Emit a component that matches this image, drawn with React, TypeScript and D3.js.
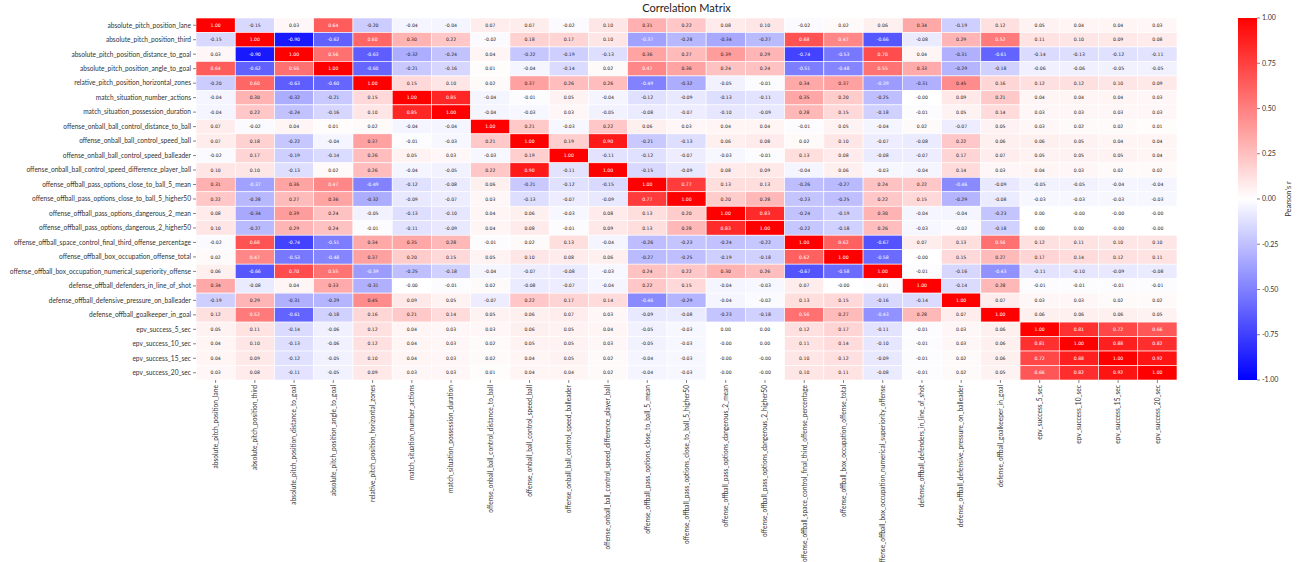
import React from "react";
import * as d3 from "d3";

const labels = [
  "absolute_pitch_position_lane",
  "absolute_pitch_position_third",
  "absolute_pitch_position_distance_to_goal",
  "absolute_pitch_position_angle_to_goal",
  "relative_pitch_position_horizontal_zones",
  "match_situation_number_actions",
  "match_situation_possession_duration",
  "offense_onball_ball_control_distance_to_ball",
  "offense_onball_ball_control_speed_ball",
  "offense_onball_ball_control_speed_balleader",
  "offense_onball_ball_control_speed_difference_player_ball",
  "offense_offball_pass_options_close_to_ball_5_mean",
  "offense_offball_pass_options_close_to_ball_5_higher50",
  "offense_offball_pass_options_dangerous_2_mean",
  "offense_offball_pass_options_dangerous_2_higher50",
  "offense_offball_space_control_final_third_offense_percentage",
  "offense_offball_box_occupation_offense_total",
  "offense_offball_box_occupation_numerical_superiority_offense",
  "defense_offball_defenders_in_line_of_shot",
  "defense_offball_defensive_pressure_on_balleader",
  "defense_offball_goalkeeper_in_goal",
  "epv_success_5_sec",
  "epv_success_10_sec",
  "epv_success_15_sec",
  "epv_success_20_sec",
];

const corr: number[][] = [
  [1.00, -0.15, 0.03, 0.64, -0.20, -0.04, -0.04, 0.07, 0.07, -0.02, 0.10, 0.31, 0.22, 0.08, 0.10, -0.02, 0.02, 0.06, 0.34, -0.19, 0.12, 0.05, 0.04, 0.04, 0.03],
  [-0.15, 1.00, -0.90, -0.62, 0.60, 0.30, 0.22, -0.02, 0.18, 0.17, 0.10, -0.37, -0.28, -0.34, -0.27, 0.68, 0.47, -0.66, -0.08, 0.29, 0.52, 0.11, 0.10, 0.09, 0.08],
  [0.03, -0.90, 1.00, 0.56, -0.63, -0.32, -0.24, 0.04, -0.22, -0.19, -0.13, 0.36, 0.27, 0.39, 0.29, -0.74, -0.53, 0.70, 0.04, -0.31, -0.61, -0.14, -0.13, -0.12, -0.11],
  [0.64, -0.62, 0.56, 1.00, -0.60, -0.21, -0.16, 0.01, -0.04, -0.14, 0.02, 0.47, 0.36, 0.24, 0.24, -0.51, -0.48, 0.55, 0.33, -0.29, -0.18, -0.06, -0.06, -0.05, -0.05],
  [-0.20, 0.60, -0.63, -0.60, 1.00, 0.15, 0.10, 0.02, 0.37, 0.26, 0.26, -0.49, -0.32, -0.05, -0.01, 0.34, 0.37, -0.39, -0.31, 0.45, 0.16, 0.12, 0.12, 0.10, 0.09],
  [-0.04, 0.30, -0.32, -0.21, 0.15, 1.00, 0.85, -0.04, -0.01, 0.05, -0.04, -0.12, -0.09, -0.13, -0.11, 0.35, 0.20, -0.25, -0.001, 0.09, 0.21, 0.04, 0.04, 0.04, 0.03],
  [-0.04, 0.22, -0.24, -0.16, 0.10, 0.85, 1.00, -0.04, -0.03, 0.03, -0.05, -0.08, -0.07, -0.10, -0.09, 0.28, 0.15, -0.18, -0.01, 0.05, 0.14, 0.03, 0.03, 0.03, 0.03],
  [0.07, -0.02, 0.04, 0.01, 0.02, -0.04, -0.04, 1.00, 0.21, -0.03, 0.22, 0.06, 0.03, 0.04, 0.04, -0.01, 0.05, -0.04, 0.02, -0.07, 0.05, 0.03, 0.02, 0.02, 0.01],
  [0.07, 0.18, -0.22, -0.04, 0.37, -0.01, -0.03, 0.21, 1.00, 0.19, 0.90, -0.21, -0.13, 0.06, 0.08, 0.02, 0.10, -0.07, -0.08, 0.22, 0.06, 0.06, 0.05, 0.04, 0.04],
  [-0.02, 0.17, -0.19, -0.14, 0.26, 0.05, 0.03, -0.03, 0.19, 1.00, -0.11, -0.12, -0.07, -0.03, -0.01, 0.13, 0.08, -0.08, -0.07, 0.17, 0.07, 0.05, 0.05, 0.05, 0.04],
  [0.10, 0.10, -0.13, 0.02, 0.26, -0.04, -0.05, 0.22, 0.90, -0.11, 1.00, -0.15, -0.09, 0.08, 0.09, -0.04, 0.06, -0.03, -0.04, 0.14, 0.03, 0.04, 0.03, 0.02, 0.02],
  [0.31, -0.37, 0.36, 0.47, -0.49, -0.12, -0.08, 0.06, -0.21, -0.12, -0.15, 1.00, 0.77, 0.13, 0.13, -0.26, -0.27, 0.24, 0.22, -0.46, -0.09, -0.05, -0.05, -0.04, -0.04],
  [0.22, -0.28, 0.27, 0.36, -0.32, -0.09, -0.07, 0.03, -0.13, -0.07, -0.09, 0.77, 1.00, 0.20, 0.28, -0.23, -0.25, 0.22, 0.15, -0.29, -0.08, -0.03, -0.03, -0.03, -0.03],
  [0.08, -0.34, 0.39, 0.24, -0.05, -0.13, -0.10, 0.04, 0.06, -0.03, 0.08, 0.13, 0.20, 1.00, 0.83, -0.24, -0.19, 0.30, -0.04, -0.04, -0.23, 0.001, -0.001, -0.001, -0.001],
  [0.10, -0.27, 0.29, 0.24, -0.01, -0.11, -0.09, 0.04, 0.08, -0.01, 0.09, 0.13, 0.28, 0.83, 1.00, -0.22, -0.18, 0.26, -0.03, -0.02, -0.18, 0.001, 0.001, -0.001, -0.001],
  [-0.02, 0.68, -0.74, -0.51, 0.34, 0.35, 0.28, -0.01, 0.02, 0.13, -0.04, -0.26, -0.23, -0.24, -0.22, 1.00, 0.62, -0.67, 0.07, 0.13, 0.56, 0.12, 0.11, 0.10, 0.10],
  [0.02, 0.47, -0.53, -0.48, 0.37, 0.20, 0.15, 0.05, 0.10, 0.08, 0.06, -0.27, -0.25, -0.19, -0.18, 0.62, 1.00, -0.58, -0.001, 0.15, 0.27, 0.17, 0.14, 0.12, 0.11],
  [0.06, -0.66, 0.70, 0.55, -0.39, -0.25, -0.18, -0.04, -0.07, -0.08, -0.03, 0.24, 0.22, 0.30, 0.26, -0.67, -0.58, 1.00, -0.01, -0.16, -0.43, -0.11, -0.10, -0.09, -0.08],
  [0.34, -0.08, 0.04, 0.33, -0.31, -0.001, -0.01, 0.02, -0.08, -0.07, -0.04, 0.22, 0.15, -0.04, -0.03, 0.07, -0.001, -0.01, 1.00, -0.14, 0.28, -0.01, -0.01, -0.01, -0.01],
  [-0.19, 0.29, -0.31, -0.29, 0.45, 0.09, 0.05, -0.07, 0.22, 0.17, 0.14, -0.46, -0.29, -0.04, -0.02, 0.13, 0.15, -0.16, -0.14, 1.00, 0.07, 0.03, 0.03, 0.02, 0.02],
  [0.12, 0.52, -0.61, -0.18, 0.16, 0.21, 0.14, 0.05, 0.06, 0.07, 0.03, -0.09, -0.08, -0.23, -0.18, 0.56, 0.27, -0.43, 0.28, 0.07, 1.00, 0.06, 0.06, 0.06, 0.05],
  [0.05, 0.11, -0.14, -0.06, 0.12, 0.04, 0.03, 0.03, 0.06, 0.05, 0.04, -0.05, -0.03, 0.001, 0.001, 0.12, 0.17, -0.11, -0.01, 0.03, 0.06, 1.00, 0.81, 0.72, 0.66],
  [0.04, 0.10, -0.13, -0.06, 0.12, 0.04, 0.03, 0.02, 0.05, 0.05, 0.03, -0.05, -0.03, -0.001, 0.001, 0.11, 0.14, -0.10, -0.01, 0.03, 0.06, 0.81, 1.00, 0.88, 0.82],
  [0.04, 0.09, -0.12, -0.05, 0.10, 0.04, 0.03, 0.02, 0.04, 0.05, 0.02, -0.04, -0.03, -0.001, -0.001, 0.10, 0.12, -0.09, -0.01, 0.02, 0.06, 0.72, 0.88, 1.00, 0.92],
  [0.03, 0.08, -0.11, -0.05, 0.09, 0.03, 0.03, 0.01, 0.04, 0.04, 0.02, -0.04, -0.03, -0.001, -0.001, 0.10, 0.11, -0.08, -0.01, 0.02, 0.05, 0.66, 0.82, 0.92, 1.00],
];

const colorbarTicks = [1.0, 0.75, 0.5, 0.25, 0.0, -0.25, -0.5, -0.75, -1.0];

const W = 1298;
const H = 562;
const M = { left: 196, top: 18, right: 1177, bottom: 380 };
const CB = { x: 1238, w: 19 };

const labelFont = "Lato, 'Open Sans', sans-serif";
const annotFont = "'DejaVu Sans', sans-serif";

const color = d3
  .scaleLinear<string>()
  .domain([-1, 0, 1])
  .range(["#0000ff", "#ffffff", "#ff0000"])
  .interpolate(d3.interpolateRgb)
  .clamp(true);

function luminance(c: string): number {
  const rgb = d3.rgb(c);
  const lin = (v: number) => {
    const s = v / 255;
    return s <= 0.03928 ? s / 12.92 : Math.pow((s + 0.055) / 1.055, 2.4);
  };
  return 0.2126 * lin(rgb.r) + 0.7152 * lin(rgb.g) + 0.0722 * lin(rgb.b);
}

function fmt(v: number): string {
  const s = v.toFixed(2);
  return s;
}

export default function App() {
  const idx = d3.range(labels.length);
  const x = d3.scaleBand<number>().domain(idx).range([M.left, M.right]);
  const y = d3.scaleBand<number>().domain(idx).range([M.top, M.bottom]);
  const cbY = d3.scaleLinear().domain([-1, 1]).range([M.bottom, M.top]);

  const stops = d3.range(0, 1.0001, 0.05).map((t) => ({
    offset: t,
    c: color(1 - 2 * t),
  }));

  return (
    <svg
      width={W}
      height={H}
      style={{ position: "absolute", left: 0, top: 0, background: "#fff" }}
    >
      <defs>
        <linearGradient id="cbgrad" x1="0" y1="0" x2="0" y2="1">
          {stops.map((s, i) => (
            <stop key={i} offset={s.offset} stopColor={s.c} />
          ))}
        </linearGradient>
      </defs>
      <text
        x={(M.left + M.right) / 2}
        y={12}
        textAnchor="middle"
        fontFamily={labelFont}
        fontSize={11}
        fill="#222"
      >
        Correlation Matrix
      </text>

      {corr.map((row, i) =>
        row.map((v, j) => {
          const c = color(v);
          const tc = luminance(c) > 0.408 ? "#262626" : "#ffffff";
          return (
            <g key={`${i}-${j}`}>
              <rect
                x={x(j)}
                y={y(i)}
                width={x.bandwidth()}
                height={y.bandwidth()}
                fill={c}
                stroke="#fff"
                strokeWidth={0.6}
              />
              <text
                x={(x(j) as number) + x.bandwidth() / 2}
                y={(y(i) as number) + y.bandwidth() / 2}
                dy="0.35em"
                textAnchor="middle"
                fontFamily={annotFont}
                fontSize={4.6}
                fill={tc}
              >
                {fmt(v)}
              </text>
            </g>
          );
        })
      )}

      {labels.map((l, i) => {
        const cy = (y(i) as number) + y.bandwidth() / 2;
        return (
          <g key={`r${i}`}>
            <line x1={M.left - 3} x2={M.left} y1={cy} y2={cy} stroke="#333" strokeWidth={0.6} />
            <text
              x={M.left - 5}
              y={cy}
              dy="0.35em"
              textAnchor="end"
              fontFamily={labelFont}
              fontSize={6.6}
              fill="#333"
            >
              {l}
            </text>
          </g>
        );
      })}

      {labels.map((l, j) => {
        const cx = (x(j) as number) + x.bandwidth() / 2;
        return (
          <g key={`c${j}`}>
            <line x1={cx} x2={cx} y1={M.bottom} y2={M.bottom + 3} stroke="#333" strokeWidth={0.6} />
            <text
              transform={`translate(${cx},${M.bottom + 5}) rotate(-90)`}
              dy="0.35em"
              textAnchor="end"
              fontFamily={labelFont}
              fontSize={6.6}
              fill="#333"
            >
              {l}
            </text>
          </g>
        );
      })}

      <rect x={CB.x} y={M.top} width={CB.w} height={M.bottom - M.top} fill="url(#cbgrad)" />
      {colorbarTicks.map((t) => (
        <g key={`t${t}`}>
          <line
            x1={CB.x + CB.w}
            x2={CB.x + CB.w + 3}
            y1={cbY(t)}
            y2={cbY(t)}
            stroke="#333"
            strokeWidth={0.6}
          />
          <text
            x={CB.x + CB.w + 5}
            y={cbY(t)}
            dy="0.35em"
            fontFamily={labelFont}
            fontSize={7}
            fill="#333"
          >
            {t.toFixed(2)}
          </text>
        </g>
      ))}
      <text
        transform={`translate(${1288},${(M.top + M.bottom) / 2}) rotate(-90)`}
        textAnchor="middle"
        dy="0.35em"
        fontFamily={labelFont}
        fontSize={7.5}
        fill="#333"
      >
        Pearson's r
      </text>
    </svg>
  );
}
